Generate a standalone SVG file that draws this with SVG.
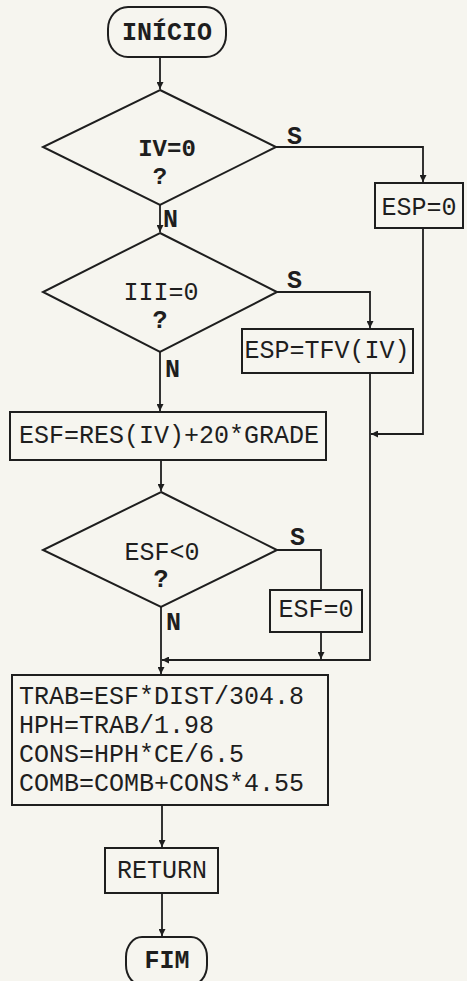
<svg xmlns="http://www.w3.org/2000/svg" width="467" height="981" viewBox="0 0 467 981">
<style>
.shape{fill:none;stroke:#1e1e1e;stroke-width:2}
.line{fill:none;stroke:#1e1e1e;stroke-width:1.8}
.t{font-family:"Liberation Mono","DejaVu Sans Mono",monospace;font-size:25px;fill:#1e1e1e}
.b{font-weight:bold}
.m{text-anchor:middle}
</style>
<defs>
<marker id="arr" viewBox="0 0 10 10" refX="10" refY="5" markerWidth="7" markerHeight="7" markerUnits="userSpaceOnUse" orient="auto">
<path d="M0,0 L10,5 L0,10 z" fill="#1e1e1e"/>
</marker>
</defs>
<rect width="467" height="981" fill="#f6f5ef"/>
<g id="connectors">
<path class="line" d="M160,57 V89" marker-end="url(#arr)"/>
<path class="line" d="M276,147 H423 V182" marker-end="url(#arr)"/>
<path class="line" d="M160,205 V232" marker-end="url(#arr)"/>
<path class="line" d="M277,292 H370 V328" marker-end="url(#arr)"/>
<path class="line" d="M423,228 V434 H371" marker-end="url(#arr)"/>
<path class="line" d="M370,373 V660 H162" marker-end="url(#arr)"/>
<path class="line" d="M160,352 V411" marker-end="url(#arr)"/>
<path class="line" d="M161,460 V491" marker-end="url(#arr)"/>
<path class="line" d="M277,550 H321 V590"/>
<path class="line" d="M321,632 V659" marker-end="url(#arr)"/>
<path class="line" d="M161,607 V674" marker-end="url(#arr)"/>
<path class="line" d="M162,805 V847" marker-end="url(#arr)"/>
<path class="line" d="M162,893 V936" marker-end="url(#arr)"/>
</g>
<g id="inicio">
<rect class="shape" x="108" y="7" width="118" height="50" rx="20" ry="22"/>
<text class="t b m" x="167" y="40">INÍCIO</text>
</g>
<g id="d_iv">
<polygon class="shape" points="160,90 276,147 160,205 43,147"/>
<text class="t b m" x="167" y="156" style="font-size:24px">IV=0</text>
<text class="t b m" x="160" y="184" style="font-size:24px">?</text>
<text class="t b" x="287" y="144">S</text>
<text class="t b" x="163" y="227">N</text>
</g>
<g id="esp0">
<rect class="shape" x="375" y="183" width="88" height="45"/>
<text class="t m" x="419" y="215">ESP=0</text>
</g>
<g id="d_iii">
<polygon class="shape" points="160,233 277,292 160,352 43,292"/>
<text class="t m" x="161" y="300">III=0</text>
<text class="t b m" x="160" y="328">?</text>
<text class="t b" x="287" y="288">S</text>
<text class="t b" x="165" y="377">N</text>
</g>
<g id="esp_tfv">
<rect class="shape" x="242" y="329" width="171" height="44"/>
<text class="t m" x="327" y="358">ESP=TFV(IV)</text>
</g>
<g id="esf_res">
<rect class="shape" x="10" y="412" width="316" height="48"/>
<text class="t m" x="169" y="443">ESF=RES(IV)+20*GRADE</text>
</g>
<g id="d_esf">
<polygon class="shape" points="161,492 277,550 161,607 43,550"/>
<text class="t m" x="162" y="560">ESF&lt;0</text>
<text class="t b m" x="161" y="587">?</text>
<text class="t b" x="290" y="545">S</text>
<text class="t b" x="166" y="630">N</text>
</g>
<g id="esf0">
<rect class="shape" x="270" y="590" width="92" height="42"/>
<text class="t m" x="316" y="617">ESF=0</text>
</g>
<g id="calc">
<rect class="shape" x="12" y="675" width="316" height="130"/>
<text class="t" x="19" y="704">TRAB=ESF*DIST/304.8</text>
<text class="t" x="19" y="733">HPH=TRAB/1.98</text>
<text class="t" x="19" y="762">CONS=HPH*CE/6.5</text>
<text class="t" x="19" y="791">COMB=COMB+CONS*4.55</text>
</g>
<g id="return">
<rect class="shape" x="105" y="848" width="113" height="45"/>
<text class="t m" x="162" y="878">RETURN</text>
</g>
<g id="fim">
<rect class="shape" x="126" y="937" width="81" height="48" rx="16" ry="20"/>
<text class="t b m" x="167" y="968">FIM</text>
</g>
</svg>
